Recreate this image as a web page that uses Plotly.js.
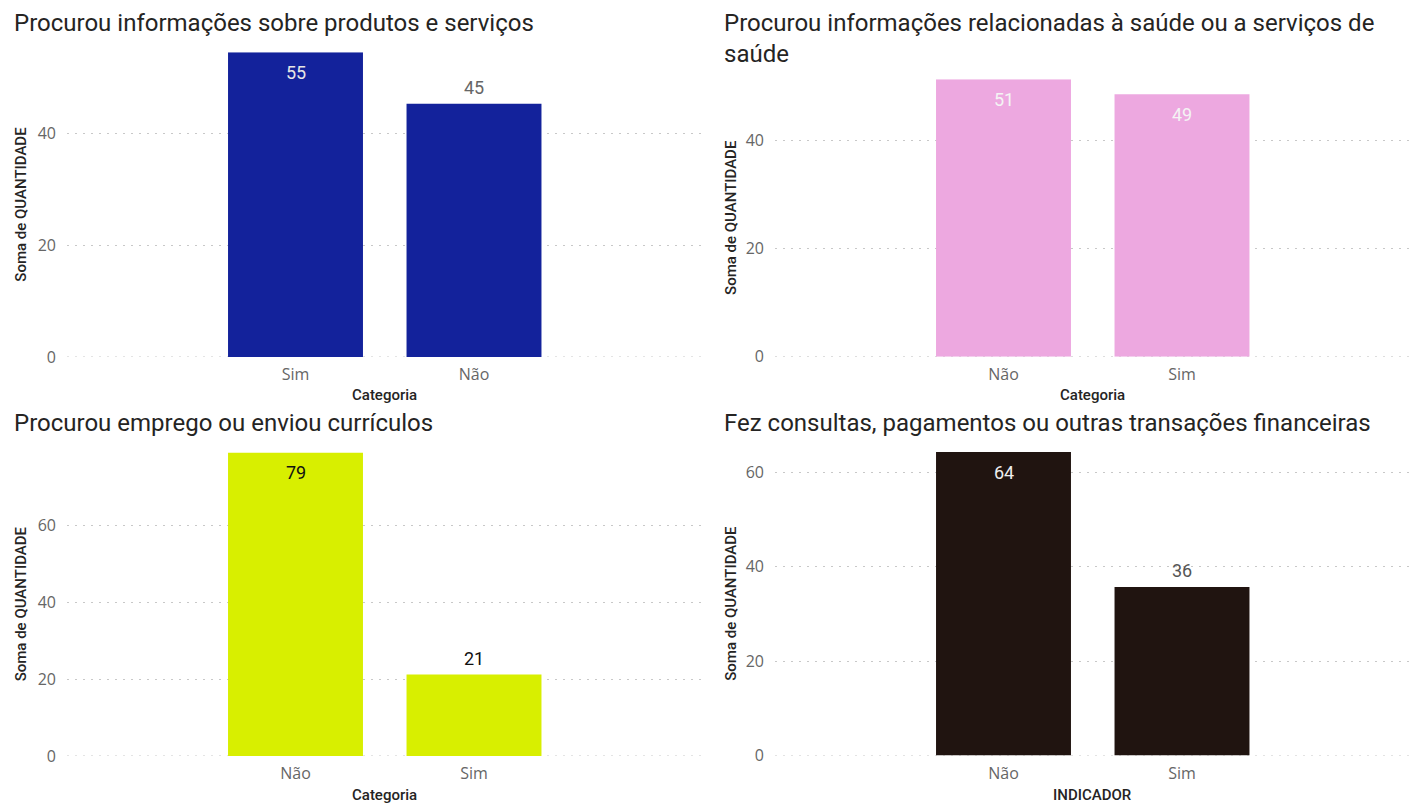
<!DOCTYPE html>
<html><head><meta charset="utf-8">
<script src="https://cdn.plot.ly/plotly-3.0.1.min.js"></script>
<style>html,body{margin:0;padding:0;background:#fff;}#chart{width:1409px;height:804px;}</style>
</head><body><div id="chart"></div>
<script>
// Data (percent values; labels are rounded)
const titles = [
  "Procurou informações sobre produtos e serviços",
  "Procurou informações relacionadas à saúde ou a serviços de<br>saúde",
  "Procurou emprego ou enviou currículos",
  "Fez consultas, pagamentos ou outras transações financeiras"
];
const cats1 = ["Sim", "Não"];
const vals1 = [54.6, 45.4];
const cats2 = ["Não", "Sim"];
const vals2 = [51.4, 48.6];
const cats3 = ["Não", "Sim"];
const vals3 = [78.8, 21.2];
const cats4 = ["Não", "Sim"];
const vals4 = [64.3, 35.7];
const xTitles = ["Categoria", "Categoria", "Categoria", "INDICADOR"];
const yTitle = "Soma de QUANTIDADE";

const colors = ["#13229b", "#eda8e0", "#d8ef00", "#201410"];
const inside = [[true, false], [true, true], [true, false], [true, false]];
const labelColors = [["#e6e6e6", "#666666"], ["#f4f4f4", "#f4f4f4"], ["#111111", "#111111"], ["#eeeeee", "#555555"]];

const W = 1409, H = 804;
const din = "Roboto, 'Noto Sans', sans-serif";
const segoe = "'Segoe UI', 'Open Sans', 'Noto Sans', sans-serif";

// panel geometry (pixels)
const panels = [
  {x0: 67, x1: 702, c0: 295.5, bottom: 357, ppu: 5.58, titleY: 7, titleX: 12, yTitleX: 21, xTitleY: 395},
  {x0: 775, x1: 1409, c0: 1003.5, bottom: 356.7, ppu: 5.4, titleY: 7, titleX: 722, yTitleX: 731, xTitleY: 395},
  {x0: 67, x1: 702, c0: 295.5, bottom: 756, ppu: 3.85, titleY: 407, titleX: 12, yTitleX: 21, xTitleY: 795},
  {x0: 775, x1: 1409, c0: 1003.5, bottom: 755.5, ppu: 4.72, titleY: 407, titleX: 722, yTitleX: 731, xTitleY: 795}
];
const spacing = 178.5;
const allCats = [cats1, cats2, cats3, cats4];
const allVals = [vals1, vals2, vals3, vals4];

const data = [];
const layout = {
  width: W, height: H,
  margin: {l: 0, r: 0, t: 0, b: 0},
  paper_bgcolor: "#fff", plot_bgcolor: "#fff",
  showlegend: false,
  bargap: 0.244,
  annotations: [],
  shapes: []
};

panels.forEach((p, i) => {
  const n = i + 1;
  const xa = "x" + (n === 1 ? "" : n), ya = "y" + (n === 1 ? "" : n);
  const ymax = Math.max(...allVals[i]);
  const top = p.bottom - ymax * p.ppu;
  data.push({
    type: "bar", x: allCats[i], y: allVals[i],
    xaxis: xa, yaxis: ya,
    marker: {color: colors[i]},
    hoverinfo: "x+y"
  });
  const left = -(p.c0 - p.x0) / spacing;
  const right = (p.x1 - p.c0) / spacing;
  layout["xaxis" + (n === 1 ? "" : n)] = {
    domain: [p.x0 / W, p.x1 / W],
    range: [left, right],
    anchor: ya,
    showgrid: false, zeroline: false, showline: false, ticks: "",
    tickfont: {family: segoe, size: 16, color: "#666"},
    ticklabelstandoff: 6,
    fixedrange: true
  };
  layout["yaxis" + (n === 1 ? "" : n)] = {
    domain: [1 - p.bottom / H, 1 - top / H],
    range: [0, ymax],
    anchor: xa,
    dtick: 20,
    showgrid: true, gridcolor: "#c8c8c8", griddash: "2px,6px", gridwidth: 1,
    zeroline: false, showline: false, ticks: "",
    tickfont: {family: segoe, size: 16, color: "#666"},
    ticklabelstandoff: 10,
    fixedrange: true
  };
  // dotted baseline at 0
  layout.shapes.push({
    type: "line", layer: "below", xref: xa + " domain", yref: ya,
    x0: 0, x1: 1, y0: 0, y1: 0,
    line: {color: "#c8c8c8", width: 1, dash: "2px,6px"}
  });
  // title
  layout.annotations.push({
    text: titles[i], xref: "paper", yref: "paper",
    x: p.titleX / W, y: 1 - p.titleY / H, xanchor: "left", yanchor: "top",
    align: "left", showarrow: false,
    font: {family: din, size: 24, color: "#252423"}
  });
  // y title
  layout.annotations.push({
    text: yTitle, xref: "paper", yref: "paper", textangle: -90,
    x: p.yTitleX / W, y: 1 - ((top + p.bottom) / 2) / H,
    xanchor: "center", yanchor: "middle", showarrow: false,
    font: {family: din, size: 15, color: "#252423", weight: 500}
  });
  // x title
  layout.annotations.push({
    text: xTitles[i], xref: "paper", yref: "paper",
    x: ((p.x0 + p.x1) / 2) / W, y: 1 - p.xTitleY / H,
    xanchor: "center", yanchor: "middle", showarrow: false,
    font: {family: din, size: 15, color: "#252423", weight: 500}
  });
  // data labels
  allCats[i].forEach((c, k) => {
    layout.annotations.push({
      text: allVals[i][k].toFixed(0), xref: xa, yref: ya,
      x: c, y: allVals[i][k], xanchor: "center", yanchor: "middle",
      yshift: inside[i][k] ? -20 : 16, showarrow: false,
      font: {family: din, size: 18, color: labelColors[i][k]}
    });
  });
});

Plotly.newPlot("chart", data, layout, {displayModeBar: false, staticPlot: true});
</script>
</body></html>
